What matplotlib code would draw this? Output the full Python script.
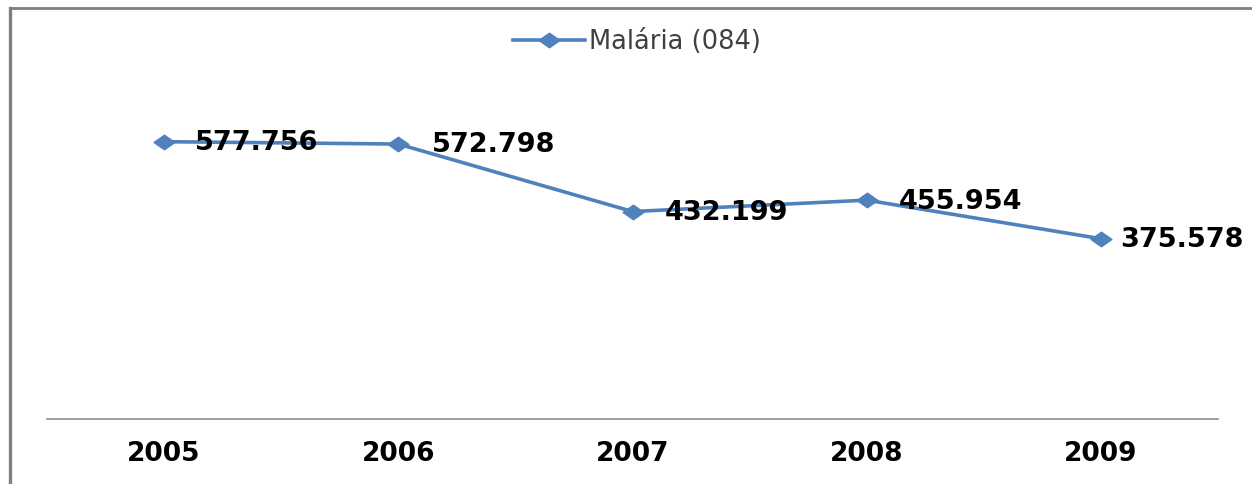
import matplotlib.pyplot as plt
from matplotlib.path import Path
from matplotlib.lines import Line2D

years = ["2005", "2006", "2007", "2008", "2009"]
casos = [577.756, 572.798, 432.199, 455.954, 375.578]
rotulos = ["577.756", "572.798", "432.199", "455.954", "375.578"]

azul = "#4F81BD"
# wide diamond like the Excel marker
losango = Path([(-1, 0), (0, 0.7), (1, 0), (0, -0.7), (-1, 0)],
               [Path.MOVETO, Path.LINETO, Path.LINETO, Path.LINETO, Path.CLOSEPOLY])

W, H = 1252, 484
fig = plt.figure(figsize=(W / 100, H / 100), dpi=100)
ax = fig.add_axes([47 / W, (H - 419) / H, (1218 - 47) / W, (419 - 83) / H])

x = list(range(len(years)))
ax.plot(x, casos, color=azul, lw=2.6, marker=losango, markersize=15,
        label="Malária (084)")
desloc = [22, 24, 23, 23, 14]  # label offsets in points
for xi, yi, t, d in zip(x, casos, rotulos, desloc):
    ax.annotate(t, (xi, yi), xytext=(d, -1), textcoords="offset points",
                ha="left", va="center", fontsize=19.5, fontweight="bold",
                color="black")

ax.set_xlim(-0.5, len(years) - 0.5)
ax.set_ylim(0, 700)
ax.set_xticks(x)
ax.set_xticklabels(years, fontsize=19, fontweight="bold")
ax.tick_params(axis="x", length=0, pad=16)
ax.set_yticks([])
for s in ["top", "right", "left"]:
    ax.spines[s].set_visible(False)
ax.spines["bottom"].set_color("#8c8c8c")
ax.spines["bottom"].set_linewidth(1.2)

leg = fig.legend(loc="center", bbox_to_anchor=(637 / W, 1 - 42 / H), frameon=False,
                 fontsize=18.5, handlelength=2.8, handletextpad=0.15)
for t in leg.get_texts():
    t.set_color("#404040")

# outer chart border (only top and left are visible in the crop)
fig.add_artist(Line2D([9.5 / W, 9.5 / W], [0, 1 - 8 / H], color="#7f7f7f", lw=2.4))
fig.add_artist(Line2D([9.5 / W, 1], [1 - 8 / H, 1 - 8 / H], color="#7f7f7f", lw=2.0))

fig.savefig("out.png", dpi=100)
